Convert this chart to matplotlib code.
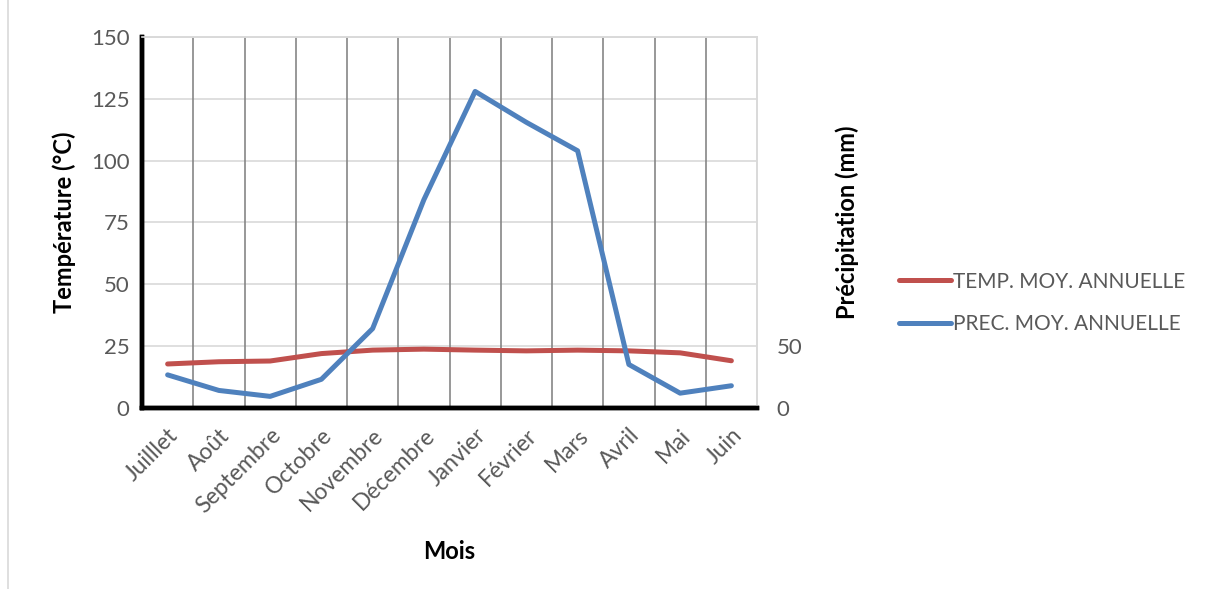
import matplotlib
matplotlib.use("Agg")
import matplotlib.pyplot as plt
from matplotlib.lines import Line2D

months = ["Juilllet", "Août", "Septembre", "Octobre", "Novembre", "Décembre",
          "Janvier", "Février", "Mars", "Avril", "Mai", "Juin"]
temp = [17.8, 18.7, 19.0, 22.0, 23.4, 23.8, 23.4, 23.1, 23.4, 23.1, 22.3, 19.1]
prec = [26.8, 14.2, 9.4, 23.2, 64.2, 168.4, 256.0, 231.0, 208.0, 35.2, 12.0, 18.0]
left_ticks = [0, 25, 50, 75, 100, 125, 150]
right_ticks = [0, 50]

plt.rcParams['font.family'] = ['Lato', 'DejaVu Sans']

fig = plt.figure(figsize=(12.1, 5.89), dpi=100)
ax = fig.add_axes([142/1210, 1-408/589, (757-142)/1210, (408-37)/589])
ax2 = ax.twinx()

x = list(range(len(months)))
red = '#c0504d'
blue = '#4f81bd'
gray = '#595959'

ax.plot(x, temp, color=red, lw=3.6, solid_capstyle='round', zorder=3)
ax2.plot(x, prec, color=blue, lw=3.6, solid_capstyle='round', zorder=3)

ax.set_xlim(-0.5, len(months) - 0.5)
ax.set_ylim(0, 150)
ax2.set_ylim(0, 300)
ax.set_yticks(left_ticks)
ax2.set_yticks(right_ticks)

# grid
for t in left_ticks[1:]:
    ax.axhline(t, color='#d9d9d9', lw=1.2, zorder=0)
for i in range(1, len(months)):
    ax.axvline(i - 0.5, color='#868686', lw=1.2, zorder=0)

ax.set_xticks(x)
ax.set_xticklabels(months, rotation=45, ha='right', rotation_mode='anchor',
                   fontsize=16.5, color=gray)
ax.tick_params(axis='x', length=0, pad=12)
ax.tick_params(axis='y', length=0, labelsize=16, labelcolor=gray, pad=9)
ax2.tick_params(axis='y', length=0, labelsize=16, labelcolor=gray, pad=14)

for a in (ax, ax2):
    a.spines['top'].set_color('#d9d9d9')
    a.spines['right'].set_color('#d9d9d9')
    a.spines['left'].set_color('black')
    a.spines['bottom'].set_color('black')
    a.spines['left'].set_linewidth(3.2)
    a.spines['bottom'].set_linewidth(3.2)
    a.spines['top'].set_linewidth(1.2)
    a.spines['right'].set_linewidth(1.2)

ax.set_xlabel("Mois", fontsize=17, fontweight='bold', color='black', labelpad=16)
ax.set_ylabel("Température (°C)", fontsize=17, fontweight='bold', color='black', labelpad=11)
ax2.set_ylabel("Précipitation (mm)", fontsize=17, fontweight='bold', color='black', labelpad=24)

handles = [Line2D([0], [0], color=red, lw=3.6, solid_capstyle='round'),
           Line2D([0], [0], color=blue, lw=3.6, solid_capstyle='round')]
leg = fig.legend(handles, ["TEMP. MOY. ANNUELLE", "PREC. MOY. ANNUELLE"],
                 loc='center left', bbox_to_anchor=(880/1210, 1-303/589),
                 frameon=False, fontsize=15, handlelength=2.5, handletextpad=0.1,
                 labelspacing=1.1)
for t in leg.get_texts():
    t.set_color(gray)

# chart area border
fig.add_artist(Line2D([8/1210, 8/1210], [0, 1], color='#d9d9d9', lw=1.2,
                      transform=fig.transFigure))

fig.savefig("out.png", dpi=100)
